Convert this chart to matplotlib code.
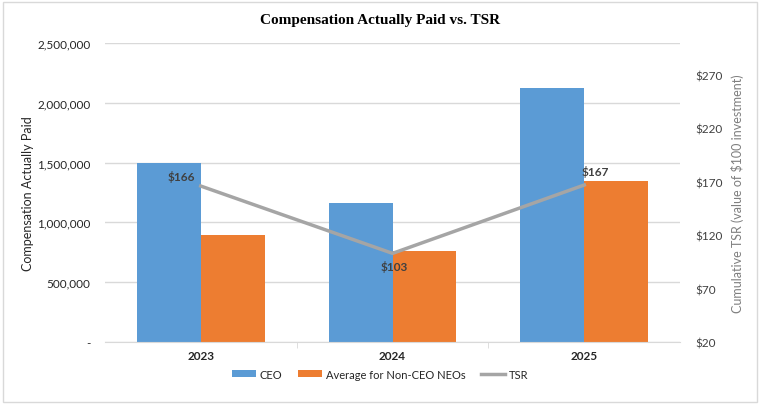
import matplotlib
matplotlib.use("Agg")
import matplotlib.pyplot as plt
import numpy as np
from matplotlib.patches import Rectangle
from matplotlib.ticker import FuncFormatter

years = ["2023", "2024", "2025"]
ceo = [1500000, 1162000, 2125000]
non_ceo = [897000, 763000, 1345000]
tsr = [166, 103, 167]
tsr_labels = ["$166", "$103", "$167"]
left_ticks = [0, 500000, 1000000, 1500000, 2000000, 2500000]
right_ticks = [20, 70, 120, 170, 220, 270]

plt.rcParams['font.family'] = ['Lato', 'DejaVu Sans']

fig = plt.figure(figsize=(7.6, 4.06), dpi=100)
fig.patches.append(Rectangle((0.004, 0.007), 0.992, 0.986, transform=fig.transFigure,
                             fill=False, edgecolor='#D9D9D9', linewidth=1))
ax = fig.add_axes([0.138, 0.155, 0.757, 0.737])
x = np.arange(len(years))
w = 1/3
ax.bar(x - w/2, ceo, w, color='#5B9BD5', label='CEO', zorder=2)
ax.bar(x + w/2, non_ceo, w, color='#ED7D31', label='Average for Non-CEO NEOs', zorder=2)
ax.set_xlim(-0.5, 2.5)
ax.set_ylim(0, 2500000)
ax.set_yticks(left_ticks)
ax.yaxis.set_major_formatter(FuncFormatter(lambda v, p: '-' if v == 0 else f'{int(v):,}'))
ax.grid(axis='y', color='#D9D9D9', linewidth=1, zorder=0)
ax.set_axisbelow(True)
for s in ['top', 'right', 'left']:
    ax.spines[s].set_visible(False)
ax.spines['bottom'].set_color('#D9D9D9')
ax.tick_params(axis='y', length=0, labelsize=8.5, labelcolor='#262626', pad=10.5)
ax.set_xticks(x)
ax.set_xticklabels(years, fontweight='bold', fontsize=8.5, color='#262626')
ax.set_xticks([0.5, 1.5], minor=True)
ax.tick_params(axis='x', which='major', length=0, pad=6)
ax.tick_params(axis='x', which='minor', length=4, color='#D9D9D9', direction='out')
ax.set_ylabel('Compensation Actually Paid', fontsize=9, color='#262626', labelpad=2)

ax2 = ax.twinx()
ax2.set_ylim(20, 300)
ax2.set_yticks(right_ticks)
ax2.set_yticklabels([f'${t}' for t in right_ticks])
for s in ['top', 'right', 'left', 'bottom']:
    ax2.spines[s].set_visible(False)
ax2.tick_params(axis='y', length=0, labelsize=8.5, labelcolor='#404040', pad=11)
line, = ax2.plot(x, tsr, color='#A5A5A5', linewidth=2.5, label='TSR', zorder=3)
ax2.set_ylabel('Cumulative TSR (value of $100 investment)', fontsize=9, color='#7F7F7F', labelpad=6)

offsets = [(-14, 7), (1, -9), (8, 10)]
for xi, yi, lab, off in zip(x, tsr, tsr_labels, offsets):
    ax2.annotate(lab, (xi, yi), xytext=off, textcoords='offset points', ha='center', va='center',
                 fontsize=8.5, fontweight='bold', color='#404040')

fig.text(0.5, 0.95, 'Compensation Actually Paid vs. TSR', ha='center', va='center',
         fontsize=11, fontweight='bold', family=['Liberation Serif'])

h1, l1 = ax.get_legend_handles_labels()
fig.legend(h1 + [line], l1 + ['TSR'], loc='center', bbox_to_anchor=(0.5, 0.076), ncol=3,
           frameon=False, fontsize=8, handlelength=2.2, handleheight=0.6, columnspacing=1.4,
           handletextpad=0.3, labelcolor='#262626')

fig.savefig('out.png', dpi=100)
